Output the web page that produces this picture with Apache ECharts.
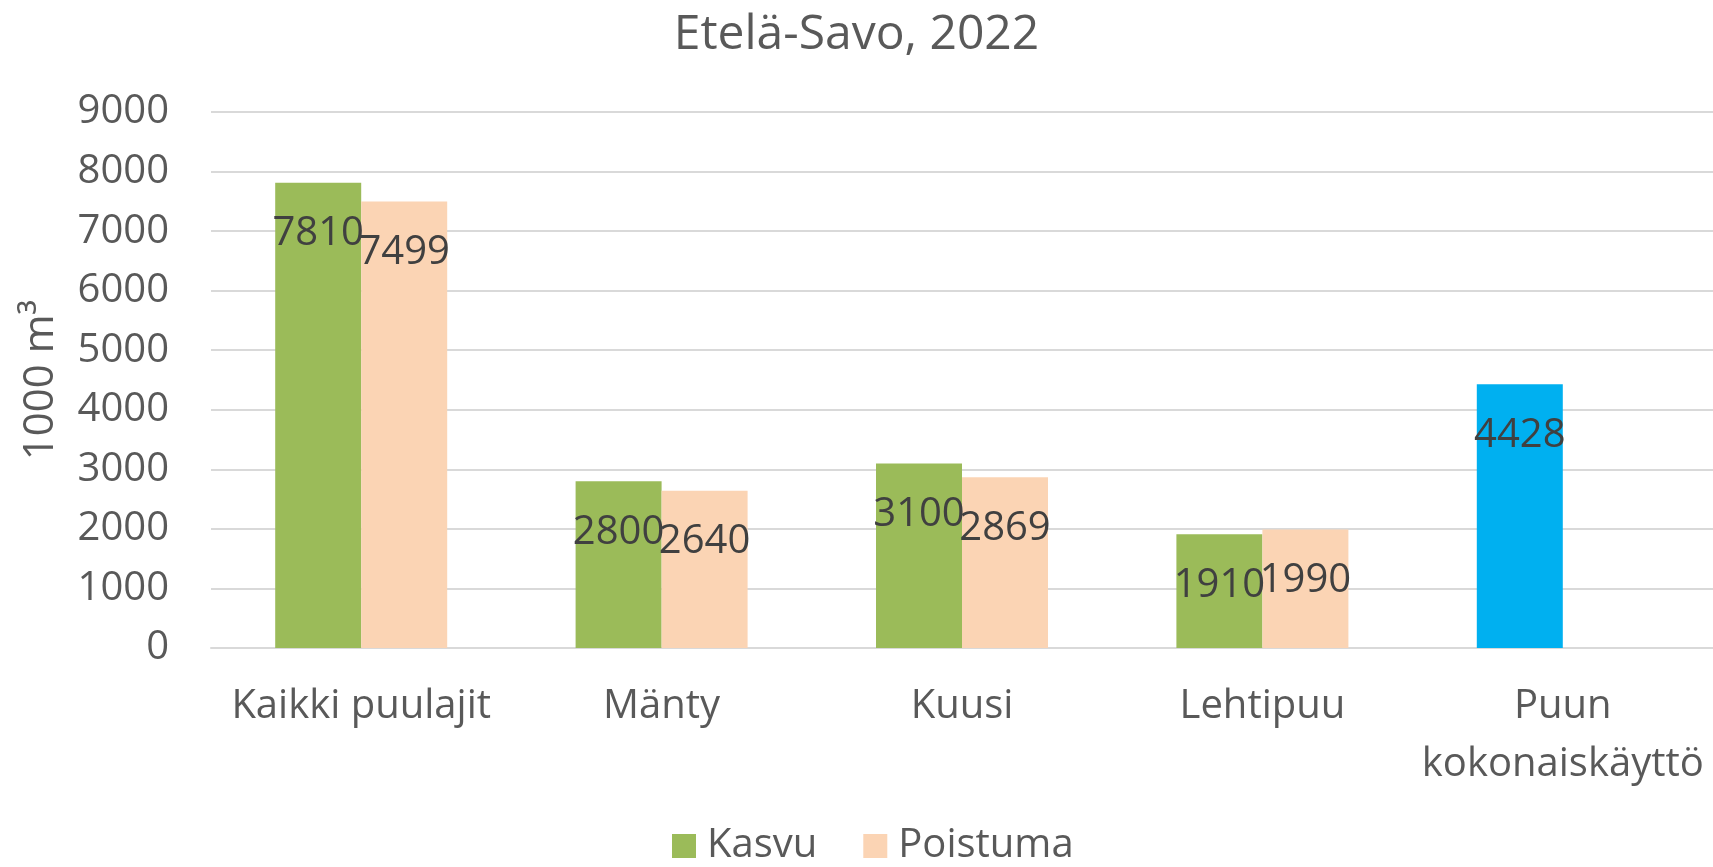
<!DOCTYPE html>
<html>
<head>
<meta charset="utf-8">
<script src="https://cdn.jsdelivr.net/npm/echarts@6/dist/echarts.min.js"></script>
<style>
  html, body { margin: 0; padding: 0; background: #fff; }
  #chart { width: 1713px; height: 867px; }
</style>
</head>
<body>
<div id="chart"></div>
<script>
// Datos del gráfico
const categorias = ['Kaikki puulajit', 'Mänty', 'Kuusi', 'Lehtipuu', 'Puun\nkokonaiskäyttö'];
const kasvu = [7810, 2800, 3100, 1910, 4428];
const poistuma = [7499, 2640, 2869, 1990, null];
const yTicks = [0, 1000, 2000, 3000, 4000, 5000, 6000, 7000, 8000, 9000];

const fuente = '"Open Sans", "Noto Sans", sans-serif';
const colorTexto = '#595959';

const chart = echarts.init(document.getElementById('chart'));

// La última barra (kokonaiskäyttö) va en azul
const kasvuData = kasvu.map((v, i) => i === kasvu.length - 1
    ? { value: v, itemStyle: { color: '#00B0F0' } }
    : v);

const labelStyle = {
    show: true,
    position: 'insideTop',
    distance: 31,
    color: '#404040',
    fontSize: 40,
    fontFamily: fuente
};

chart.setOption({
    animation: false,
    backgroundColor: '#fff',
    title: {
        text: 'Etelä-Savo, 2022',
        left: 'center',
        top: 6,
        textStyle: { fontSize: 48, fontWeight: 'normal', color: colorTexto, fontFamily: fuente }
    },
    legend: {
        data: ['Kasvu', 'Poistuma'],
        left: 667,
        top: 821,
        icon: 'rect',
        itemWidth: 24,
        itemHeight: 24,
        itemGap: 46,
        textStyle: { fontSize: 40, color: colorTexto, fontFamily: fuente, padding: [0, 0, 0, 6] }
    },
    grid: { left: 211, right: 0, top: 112, bottom: 219 },
    xAxis: {
        type: 'category',
        data: categorias,
        axisLine: { lineStyle: { color: '#d9d9d9', width: 2 } },
        axisTick: { show: false },
        axisLabel: {
            color: colorTexto,
            fontSize: 40,
            fontFamily: fuente,
            margin: 30,
            lineHeight: 58,
            interval: 0
        }
    },
    yAxis: {
        type: 'value',
        min: yTicks[0],
        max: yTicks[yTicks.length - 1],
        interval: 1000,
        name: '1000 m³',
        nameLocation: 'middle',
        nameGap: 149,
        nameTextStyle: { fontSize: 42, color: colorTexto, fontFamily: fuente },
        axisLine: { show: false },
        axisTick: { show: false },
        splitLine: { lineStyle: { color: '#d9d9d9', width: 2 } },
        axisLabel: {
            color: colorTexto,
            fontSize: 40,
            fontFamily: fuente,
            margin: 42,
            formatter: function(v) { return String(v); }
        }
    },
    series: [
        {
            name: 'Kasvu',
            type: 'bar',
            data: kasvuData,
            barWidth: 86,
            barGap: '0%',
            itemStyle: { color: '#9BBB59' },
            label: labelStyle
        },
        {
            name: 'Poistuma',
            type: 'bar',
            data: poistuma,
            barWidth: 86,
            barGap: '0%',
            itemStyle: { color: '#FBD4B4' },
            label: labelStyle
        }
    ]
});

window.addEventListener('resize', function() {
    chart.resize();
});
</script>
</body>
</html>
